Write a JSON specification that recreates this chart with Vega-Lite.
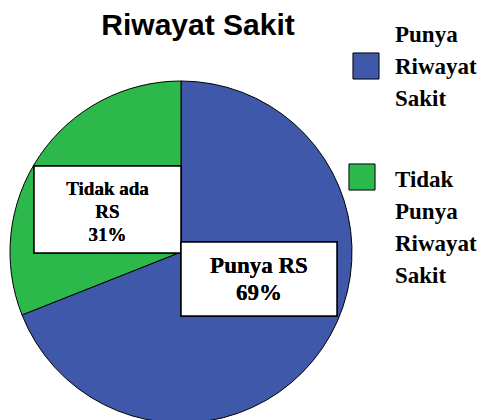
{
  "$schema": "https://vega.github.io/schema/vega-lite/v6.json",
  "autosize": {"type": "none"},
  "width": 362,
  "height": 336,
  "padding": {"left": 0, "top": 84, "right": 120, "bottom": 0},
  "background": "white",
  "view": {"stroke": null},
  "config": {
    "style": {"guide-label": {"lineHeight": 32}},
    "legend": {
      "title": null,
      "orient": "none",
      "padding": 0,
      "symbolType": "square",
      "symbolSize": 680,
      "symbolStrokeColor": "black",
      "symbolStrokeWidth": 1,
      "symbolOpacity": 1,
      "labelFont": "Liberation Serif",
      "labelFontSize": 23,
      "labelFontWeight": "bold",
      "labelColor": "black",
      "labelLimit": 0
    }
  },
  "title": {
    "text": "Riwayat Sakit",
    "font": "Liberation Sans",
    "fontSize": 30,
    "fontWeight": "bold",
    "color": "black",
    "anchor": "middle",
    "frame": "group",
    "dx": 17,
    "offset": -13,
    "baseline": "alphabetic"
  },
  "data": {
    "values": [
      {"kategori": "Punya Riwayat Sakit", "label": "Punya RS", "persen": 69},
      {"kategori": "Tidak Punya Riwayat Sakit", "label": "Tidak ada RS", "persen": 31}
    ]
  },
  "transform": [
    {"stack": "persen", "groupby": [], "sort": [{"field": "kategori"}], "as": ["t0", "t1"]}
  ],
  "resolve": {"scale": {"color": "independent"}, "legend": {"color": "independent"}},
  "layer": [
    {
      "transform": [{"filter": "datum.kategori == 'Punya Riwayat Sakit'"}],
      "mark": {"type": "arc", "outerRadius": 171, "stroke": "black", "strokeWidth": 1},
      "encoding": {
        "theta": {"field": "t0", "type": "quantitative", "stack": null, "scale": {"domain": [0, 100]}},
        "theta2": {"field": "t1"},
        "color": {
          "field": "kategori",
          "type": "nominal",
          "scale": {"domain": ["Punya Riwayat Sakit"], "range": ["#3f58aa"]},
          "legend": {
            "legendX": 352,
            "legendY": -32,
            "labelOffset": 15,
            "labelExpr": "split(datum.label, ' ')",
            "encode": {"labels": {"update": {"dy": {"value": -31}}}}
          }
        }
      }
    },
    {
      "transform": [{"filter": "datum.kategori == 'Tidak Punya Riwayat Sakit'"}],
      "mark": {"type": "arc", "outerRadius": 171, "stroke": "black", "strokeWidth": 1},
      "encoding": {
        "theta": {"field": "t0", "type": "quantitative", "stack": null, "scale": {"domain": [0, 100]}},
        "theta2": {"field": "t1"},
        "color": {
          "field": "kategori",
          "type": "nominal",
          "scale": {"domain": ["Tidak Punya Riwayat Sakit"], "range": ["#2db84b"]},
          "legend": {
            "legendX": 348,
            "legendY": 79,
            "labelOffset": 19,
            "labelExpr": "split(datum.label, ' ')",
            "encode": {"labels": {"update": {"dy": {"value": 3}}}}
          }
        }
      }
    },
    {
      "mark": {"type": "rect", "x": 34, "x2": 181, "y": 82, "y2": 169, "fill": "white", "stroke": "black", "strokeWidth": 1.5},
      "encoding": {}
    },
    {
      "mark": {"type": "rect", "x": 181, "x2": 337, "y": 158, "y2": 232, "fill": "white", "stroke": "black", "strokeWidth": 1.5},
      "encoding": {}
    },
    {
      "mark": {"type": "text", "x": 107.5, "y": 105, "text": ["Tidak ada", "RS", "31%"], "font": "Liberation Serif", "fontWeight": "bold", "fontSize": 19, "lineHeight": 23, "align": "center", "baseline": "middle", "color": "black"},
      "encoding": {}
    },
    {
      "mark": {"type": "text", "x": 259, "y": 182, "text": ["Punya RS", "69%"], "font": "Liberation Serif", "fontWeight": "bold", "fontSize": 23, "lineHeight": 27, "align": "center", "baseline": "middle", "color": "black"},
      "encoding": {}
    }
  ]
}
